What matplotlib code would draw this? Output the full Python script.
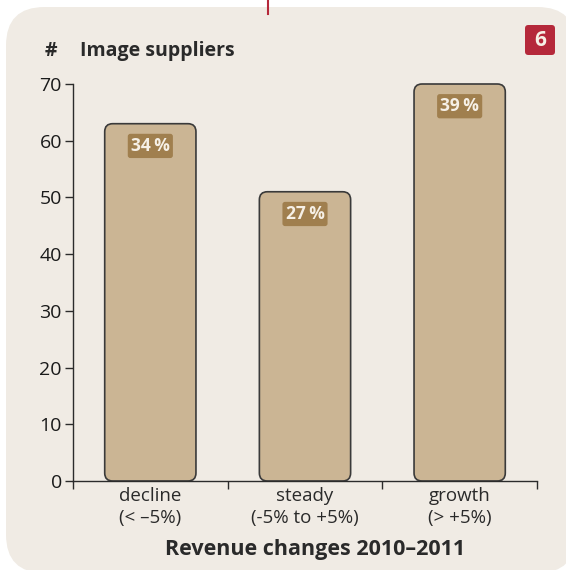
import matplotlib
matplotlib.use('Agg')
import matplotlib.pyplot as plt
from matplotlib.patches import FancyBboxPatch
import numpy as np

plt.rcParams['font.family'] = ['Open Sans', 'DejaVu Sans']

categories = ['decline', 'steady', 'growth']
ranges = ['(< \u20135%)', '(-5% to +5%)', '(> +5%)']
suppliers = [63, 51, 70]
shares = ['34\u2009%', '27\u2009%', '39\u2009%']

panel_col = '#f0ebe4'
bar_col = '#cbb594'
label_col = '#a07f4e'
red = '#b5283a'
dark = '#2b2b2b'

fig = plt.figure(figsize=(5.66, 5.70), dpi=100)
W, H = 566., 570.

# rounded background panel (runs past the right and bottom edges)
panel = FancyBboxPatch((6 / W, 1 - 573 / H), 570 / W, 566 / H,
                       boxstyle='round,pad=0,rounding_size=0.068',
                       transform=fig.transFigure, facecolor=panel_col,
                       edgecolor='none', mutation_aspect=W / H, zorder=-10)
fig.patches.append(panel)
fig.add_artist(plt.Line2D([268 / W, 268 / W], [1, 1 - 14 / H], color=red, lw=1.5,
                          transform=fig.transFigure))

ax = fig.add_axes([73 / W, 1 - 481 / H, 464 / W, 397 / H])
ax.set_facecolor('none')
ax.set_zorder(5)
x = np.arange(len(categories))
bars = ax.bar(x, suppliers, width=0.59, color=bar_col)

# replace plain bars with rounded ones
ax_w_px, ax_h_px = 464., 397.
xpx = ax_w_px / 3.0
ypx = ax_h_px / 70.0
for b in bars:
    b.set_visible(False)
    rb = FancyBboxPatch((b.get_x(), 0), b.get_width(), b.get_height(),
                        boxstyle='round,pad=0,rounding_size=%f' % (8 / xpx),
                        mutation_aspect=xpx / ypx, facecolor=bar_col,
                        edgecolor='#3a3a3a', lw=1.2, clip_on=False, zorder=2)
    ax.add_patch(rb)

for xi, v, s in zip(x, suppliers, shares):
    ax.annotate(s, (xi, v), xytext=(0, -16), textcoords='offset points',
                ha='center', va='center', fontsize=12.5, fontweight='bold',
                color='#f6f0e6', zorder=4,
                bbox=dict(boxstyle='round,pad=0.18,rounding_size=0.15',
                          fc=label_col, ec='none'))

ax.set_xlim(-0.5, 2.5)
ax.set_ylim(0, 70)
ax.set_yticks(range(0, 71, 10))
ax.set_xticks([-0.5, 0.5, 1.5, 2.5])
ax.set_xticklabels([])
for sp in ['top', 'right']:
    ax.spines[sp].set_visible(False)
for sp in ['left', 'bottom']:
    ax.spines[sp].set_color(dark)
    ax.spines[sp].set_linewidth(1.0)
ax.tick_params(axis='y', direction='out', length=6, width=1.0, color=dark,
               labelsize=14, labelcolor='#1a1a1a', pad=2)
ax.tick_params(axis='x', direction='out', length=6, width=1.0, color=dark)

for xi, c, r in zip(x, categories, ranges):
    ax.annotate(c, (xi, 0), xytext=(0, -10.5), textcoords='offset points',
                ha='center', va='center', fontsize=13.5, color='#2a2a2a')
    ax.annotate(r, (xi, 0), xytext=(0, -26.5), textcoords='offset points',
                ha='center', va='center', fontsize=13.5, color='#2a2a2a')

fig.text(315 / W, 1 - 549 / H, 'Revenue changes 2010\u20132011', ha='center',
         va='center', fontsize=15.5, fontweight='bold', color='#2a2a2a')
fig.text(45 / W, 1 - 51 / H, '#', ha='left', va='center', fontsize=14,
         fontweight='bold', color='#2a2a2a')
fig.text(80 / W, 1 - 51 / H, 'Image suppliers', ha='left', va='center',
         fontsize=14, fontweight='bold', color='#2a2a2a')

badge = FancyBboxPatch((525 / W, 1 - 55 / H), 30 / W, 30 / H,
                       boxstyle='round,pad=0,rounding_size=0.006',
                       transform=fig.transFigure, facecolor=red,
                       edgecolor='none', mutation_aspect=W / H)
fig.patches.append(badge)
fig.text(540 / W, 1 - 40 / H, '6', ha='center', va='center', fontsize=15,
         fontweight='bold', color='#f6f0e6')

fig.savefig('out.png', dpi=100, facecolor='white')
